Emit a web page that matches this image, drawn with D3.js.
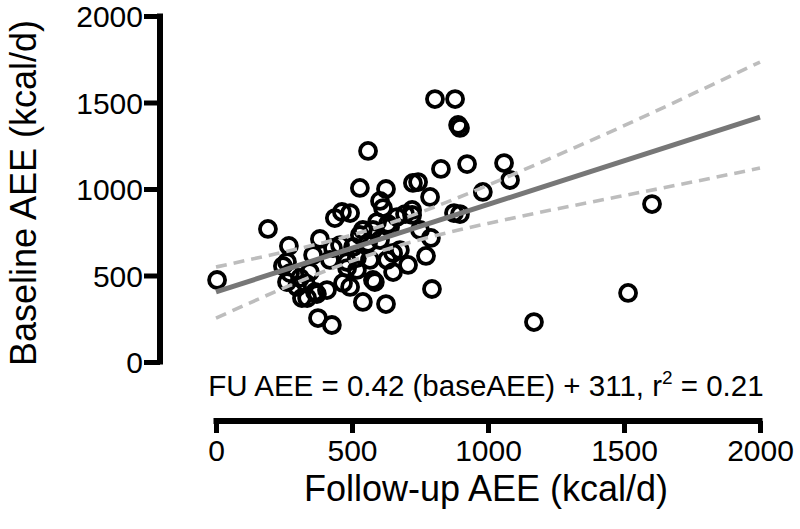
<!DOCTYPE html>
<html>
<head>
<meta charset="utf-8">
<script src="https://cdn.jsdelivr.net/npm/d3@7"></script>
<style>
  html, body { margin: 0; padding: 0; background: #fff; }
  svg { display: block; }
  text { font-family: "Liberation Sans", Arial, sans-serif; fill: #000; }
</style>
</head>
<body>
<svg id="chart" width="800" height="529"></svg>
<script>
// Follow-up AEE (x) vs Baseline AEE (y), kcal/d
const followUpAEE = [4,191,268,382,437,463,529,559,625,603,614,724,743,787,827,805,879,890,897,923,1059,1081,981,875,897,695,721,493,592,632,540,665,790,772,706,651,577,584,794,540,625,493,651,566,518,1603,1515,1169,426,375,335,371,408,467,482,518,419,456,357,272,309,261,298,316,364,504,577,640,629,676,482,430,261,721,246,559,750,529,603,330,345];
const baselineAEE = [474,769,671,711,832,867,1006,1220,1000,931,890,1035,1040,954,1116,1520,1520,1370,1353,1144,1150,1052,983,861,855,855,879,861,809,798,763,838,717,613,561,520,474,462,422,347,335,434,630,590,532,913,399,231,214,254,370,393,416,457,543,601,590,676,618,514,486,578,434,370,405,665,763,780,590,647,578,659,462,850,555,688,763,734,705,455,520];

// regression line and 95% confidence band
const fitX = [0, 2000];
const fitY = [405, 1416];
const bandX = [0, 250, 500, 750, 1000, 1250, 1500, 1750, 2000];
const bandUpper = [549, 636, 734, 864, 1022, 1192, 1366, 1548, 1734];
const bandLower = [254, 428, 584, 707, 801, 884, 962, 1040, 1121];

const xTicks = [0, 500, 1000, 1500, 2000];
const yTicks = [0, 500, 1000, 1500, 2000];
const equationText = "FU AEE = 0.42 (baseAEE) + 311, r";
const equationSup = "2";
const equationTail = " = 0.21";
const xTitle = "Follow-up AEE (kcal/d)";
const yTitle = "Baseline AEE (kcal/d)";

const svg = d3.select("#chart");
const x = d3.scaleLinear().domain([0, 2000]).range([216, 760]);
const y = d3.scaleLinear().domain([0, 2000]).range([362, 16]);

// Y axis
const yAxis = d3.axisLeft(y).tickValues(yTicks).tickSize(16).tickPadding(1).tickFormat(d3.format("d"));
const gy = svg.append("g").attr("transform", "translate(160,0)").call(yAxis);
gy.select(".domain").remove();
gy.append("line").attr("x1", 0).attr("x2", 0).attr("y1", y(2000) - 2.5).attr("y2", y(0) + 2.5)
  .attr("stroke", "#000").attr("stroke-width", 6);
gy.selectAll(".tick line").attr("stroke", "#000").attr("stroke-width", 5);
gy.selectAll(".tick text").attr("font-size", 30).attr("font-family", "Liberation Sans, Arial, sans-serif").attr("dy", "0.36em");

// X axis
const xAxis = d3.axisBottom(x).tickValues(xTicks).tickSize(12).tickPadding(7).tickFormat(d3.format("d"));
const gx = svg.append("g").attr("transform", "translate(0,421)").call(xAxis);
gx.select(".domain").remove();
gx.append("line").attr("x1", x(0) - 2.5).attr("x2", x(2000) + 2.5).attr("y1", 0).attr("y2", 0)
  .attr("stroke", "#000").attr("stroke-width", 6);
gx.selectAll(".tick line").attr("stroke", "#000").attr("stroke-width", 5);
gx.selectAll(".tick text").attr("font-size", 30).attr("font-family", "Liberation Sans, Arial, sans-serif");

// Points
svg.append("g").selectAll("circle")
  .data(followUpAEE.map((v, i) => [v, baselineAEE[i]]))
  .join("circle")
  .attr("cx", d => x(d[0])).attr("cy", d => y(d[1])).attr("r", 8)
  .attr("fill", "none").attr("stroke", "#000").attr("stroke-width", 3.8);

// Confidence band
const bandLine = d3.line().x(d => x(d[0])).y(d => y(d[1])).curve(d3.curveNatural);
[bandUpper, bandLower].forEach(arr => {
  svg.append("path").datum(bandX.map((v, i) => [v, arr[i]]))
    .attr("d", bandLine).attr("fill", "none").attr("stroke", "#bdbdbd")
    .attr("stroke-width", 3.6).attr("stroke-dasharray", "11,7");
});

// Fit line
svg.append("path").datum(fitX.map((v, i) => [v, fitY[i]]))
  .attr("d", d3.line().x(d => x(d[0])).y(d => y(d[1])))
  .attr("fill", "none").attr("stroke", "#777").attr("stroke-width", 5);

// Equation
const eq = svg.append("text").attr("x", 486).attr("y", 396).attr("text-anchor", "middle").attr("font-size", 29.5);
eq.append("tspan").text(equationText);
eq.append("tspan").attr("font-size", 19).attr("dy", -12).text(equationSup);
eq.append("tspan").attr("dy", 12).text(equationTail);

// Axis titles
svg.append("text").attr("x", 486).attr("y", 501).attr("text-anchor", "middle").attr("font-size", 36).text(xTitle);
svg.append("text").attr("transform", "translate(36,193) rotate(-90)").attr("text-anchor", "middle").attr("font-size", 36).text(yTitle);
</script>
</body>
</html>
